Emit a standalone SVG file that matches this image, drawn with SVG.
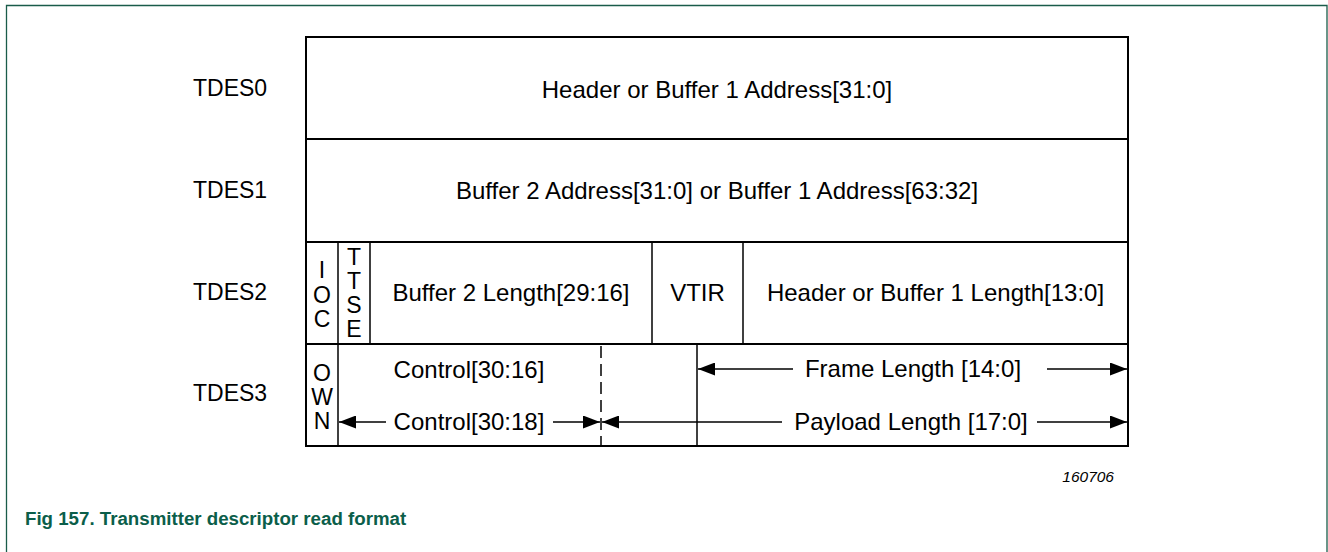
<svg xmlns="http://www.w3.org/2000/svg" width="1328" height="552" viewBox="0 0 1328 552">
<style>
  text { font-family: "Liberation Sans", Arial, sans-serif; fill: #000; }
  .lbl { font-size: 23px; }
  .t { font-size: 24px; text-anchor: middle; }
  .v { font-size: 23px; text-anchor: middle; }
  .box { fill: #fff; stroke: #000; stroke-width: 2; }
  .hl { stroke: #000; stroke-width: 2; fill: none; }
  .vl { stroke: #000; stroke-width: 1.5; fill: none; }
  .dash { stroke: #000; stroke-width: 1.5; stroke-dasharray: 12 6; fill: none; }
  .arr { stroke: #000; stroke-width: 1.5; fill: none; }
  .frame { stroke: #1a5c4a; stroke-width: 1.3; fill: none; }
  .cap { font-size: 18.7px; font-weight: bold; fill: #0b5e4a; }
  .id { font-size: 15.5px; font-style: italic; text-anchor: end; }
</style>
<defs>
  <marker id="ah" markerUnits="userSpaceOnUse" markerWidth="17" markerHeight="13" refX="17" refY="6.5" orient="auto-start-reverse" viewBox="0 0 17 13">
    <path d="M0,0 L17,6.5 L0,13 z" fill="#000"/>
  </marker>
</defs>
<rect width="1328" height="552" fill="#fff"/>
<path class="frame" d="M6.5,552 V5.5 H1327 V552"/>

<g id="register">
  <rect class="box" x="306" y="37" width="822" height="409"/>
  <line class="hl" x1="306" y1="139" x2="1128" y2="139"/>
  <line class="hl" x1="306" y1="242" x2="1128" y2="242"/>
  <line class="hl" x1="306" y1="344" x2="1128" y2="344"/>
</g>

<g id="labels">
  <text class="lbl" x="193" y="96">TDES0</text>
  <text class="lbl" x="193" y="198">TDES1</text>
  <text class="lbl" x="193" y="300">TDES2</text>
  <text class="lbl" x="193" y="401">TDES3</text>
</g>

<g id="tdes0">
  <text class="t" x="717" y="98">Header or Buffer 1 Address[31:0]</text>
</g>

<g id="tdes1">
  <text class="t" x="717" y="199">Buffer 2 Address[31:0] or Buffer 1 Address[63:32]</text>
</g>

<g id="tdes2">
  <line class="vl" x1="338" y1="242" x2="338" y2="344"/>
  <line class="vl" x1="370" y1="242" x2="370" y2="344"/>
  <line class="vl" x1="652" y1="242" x2="652" y2="344"/>
  <line class="vl" x1="743" y1="242" x2="743" y2="344"/>
  <g id="ioc">
    <text class="v" x="322" y="278">I</text>
    <text class="v" x="322" y="302.5">O</text>
    <text class="v" x="322" y="327">C</text>
  </g>
  <g id="ttse">
    <text class="v" x="354" y="265">T</text>
    <text class="v" x="354" y="289">T</text>
    <text class="v" x="354" y="313">S</text>
    <text class="v" x="354" y="337">E</text>
  </g>
  <text class="t" x="511" y="301">Buffer 2 Length[29:16]</text>
  <text class="t" x="697.5" y="301">VTIR</text>
  <text class="t" x="935.5" y="301">Header or Buffer 1 Length[13:0]</text>
</g>

<g id="tdes3">
  <line class="vl" x1="338" y1="344" x2="338" y2="446"/>
  <line class="vl" x1="697" y1="344" x2="697" y2="446"/>
  <line class="dash" x1="601" y1="346" x2="601" y2="446"/>
  <g id="own">
    <text class="v" x="322" y="381">O</text>
    <text class="v" x="322" y="405">W</text>
    <text class="v" x="322" y="429">N</text>
  </g>
  <text class="t" x="469" y="378">Control[30:16]</text>
  <text class="t" x="469" y="430">Control[30:18]</text>
  <text class="t" x="913" y="377">Frame Length [14:0]</text>
  <text class="t" x="911" y="430">Payload Length [17:0]</text>
</g>

<g id="connectors">
  <line class="arr" x1="339" y1="422" x2="386" y2="422" marker-start="url(#ah)"/>
  <line class="arr" x1="553" y1="422" x2="600" y2="422" marker-end="url(#ah)"/>
  <line class="arr" x1="602" y1="422" x2="782" y2="422" marker-start="url(#ah)"/>
  <line class="arr" x1="1037" y1="422" x2="1127" y2="422" marker-end="url(#ah)"/>
  <line class="arr" x1="698" y1="369" x2="793" y2="369" marker-start="url(#ah)"/>
  <line class="arr" x1="1047" y1="369" x2="1127" y2="369" marker-end="url(#ah)"/>
</g>

<text class="id" x="1114" y="482">160706</text>
<text class="cap" x="25" y="525">Fig 157. Transmitter descriptor read format</text>
</svg>
